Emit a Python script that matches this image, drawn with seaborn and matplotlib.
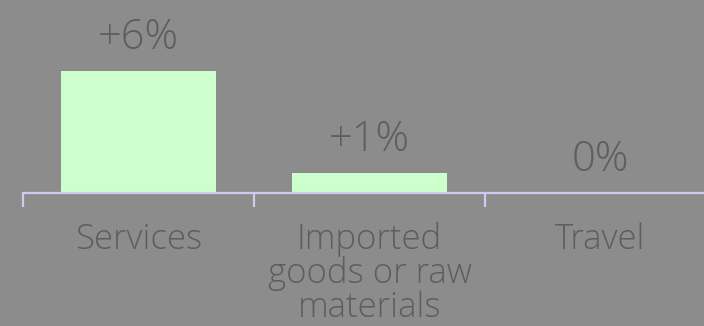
import matplotlib
matplotlib.use("Agg")
import matplotlib.pyplot as plt
import seaborn as sns
import pandas as pd

categories = ["Services", "Imported\ngoods or raw\nmaterials", "Travel"]
values = [6, 1, 0]
value_labels = ["+6%", "+1%", "0%"]

BG = "#8c8c8c"
BAR = "#ccffcc"
AXIS = "#ccccee"
TEXT = "#5e5e5e"

sns.set_theme(style="white")
plt.rcParams["font.family"] = ["Open Sans", "DejaVu Sans"]

df = pd.DataFrame({"category": categories, "value": values})

fig = plt.figure(figsize=(7.04, 3.26), dpi=100, facecolor=BG)
ax = fig.add_axes([23 / 704, 133 / 326, 693 / 704, 193 / 326])
ax.set_facecolor(BG)

sns.barplot(data=df, x="category", y="value", color=BAR, width=0.667,
            saturation=1, ax=ax, edgecolor="none")

ax.set_xlim(-0.5, 2.5)
ax.set_ylim(0, 9.49)

for side in ["top", "right", "left"]:
    ax.spines[side].set_visible(False)
ax.spines["bottom"].set_color(AXIS)
ax.spines["bottom"].set_linewidth(1.6)

ax.set_yticks([])
ax.set_xlabel("")
ax.set_ylabel("")

ax.set_xticks(range(len(categories)))
ax.set_xticklabels(categories, fontsize=25, color=TEXT, fontweight="light",
                   linespacing=0.96)
ax.tick_params(axis="x", which="major", length=0, pad=21, bottom=True)
ax.set_xticks([-0.5, 0.5, 1.5, 2.5], minor=True)
ax.tick_params(axis="x", which="minor", length=10, width=1.6, color=AXIS,
               direction="out", bottom=True)

ax.bar_label(ax.containers[0], labels=value_labels, padding=8.5, fontsize=30,
             color=TEXT, fontweight="light")

fig.savefig("out.png", dpi=100, facecolor=BG)
